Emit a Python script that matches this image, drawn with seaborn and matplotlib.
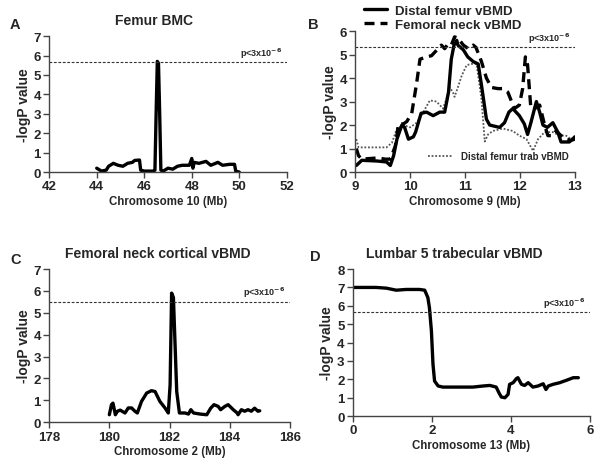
import numpy as np
import pandas as pd
import seaborn as sns
import matplotlib
matplotlib.use("Agg")
import matplotlib.pyplot as plt
from matplotlib.lines import Line2D

# ---- data ----
# A: Femur BMC, chromosome 10
a_x = [44.0, 44.2, 44.4, 44.5, 44.7, 44.9, 45.1, 45.3, 45.5, 45.6, 45.8, 45.85, 46.0, 46.4, 46.45,
       46.5, 46.55, 46.6, 46.65, 46.7, 46.8, 47.0, 47.2, 47.4, 47.6, 47.9, 48.0, 48.05, 48.1, 48.3,
       48.6, 48.8, 49.1, 49.3, 49.6, 49.8, 49.85, 50.0]
a_y = [0.2, 0.05, 0.1, 0.3, 0.45, 0.35, 0.3, 0.45, 0.5, 0.6, 0.62, 0.1, 0.05, 0.05, 0.1,
       3.0, 5.7, 5.6, 3.0, 0.1, 0.05, 0.2, 0.15, 0.3, 0.35, 0.35, 0.7, 0.2, 0.5, 0.45,
       0.55, 0.35, 0.5, 0.35, 0.4, 0.4, 0.05, 0.0]

# B: chromosome 9, three traits
b_solid_x = [9.02, 9.12, 9.4, 9.57, 9.64, 9.7, 9.76, 9.85, 9.9, 9.97, 10.06, 10.1, 10.2, 10.3, 10.42,
             10.54, 10.63, 10.7, 10.75, 10.8, 10.85, 10.87, 10.97, 11.05, 11.15, 11.24, 11.3, 11.39,
             11.45, 11.63, 11.72, 11.8, 11.87, 11.99, 12.08, 12.14, 12.2, 12.3, 12.36, 12.42, 12.5,
             12.6, 12.69, 12.75, 12.9, 12.96, 13.0]
b_solid_y = [0.28, 0.5, 0.47, 0.43, 0.28, 0.7, 1.4, 2.0, 1.9, 1.4, 1.5, 1.7, 2.5, 2.55, 2.4,
             2.55, 2.55, 3.4, 4.8, 5.4, 5.6, 5.4, 5.2, 4.9, 4.7, 4.6, 3.7, 2.25,
             2.0, 1.9, 2.1, 2.55, 2.7, 2.4, 2.05, 1.6, 2.1, 3.0, 2.55, 2.0, 1.9,
             2.1, 1.7, 1.28, 1.28, 1.4, 1.5]
b_dash_x = [9.02, 9.06, 9.12, 9.4, 9.55, 9.64, 9.73, 9.79, 9.88, 9.94, 10.03, 10.12, 10.18, 10.3,
            10.39, 10.51, 10.57, 10.63, 10.69, 10.75, 10.81, 10.87, 10.97, 11.06, 11.15, 11.2, 11.3,
            11.39, 11.48, 11.6, 11.69, 11.78, 11.9, 11.99, 12.05, 12.1, 12.14, 12.2, 12.27, 12.36,
            12.45, 12.51, 12.6, 12.66, 12.75, 12.84, 12.93, 13.0]
b_dash_y = [1.0, 0.7, 0.55, 0.6, 0.55, 0.55, 1.1, 2.05, 2.05, 2.15, 2.5, 3.8, 4.8, 4.9,
            4.95, 5.25, 5.4, 5.25, 5.45, 5.4, 5.75, 5.7, 5.4, 5.25, 5.4, 5.3, 4.7,
            4.0, 3.6, 3.55, 3.55, 3.4, 2.7, 2.85, 3.55, 4.9, 4.55, 2.7, 2.7, 2.85,
            2.0, 1.55, 1.55, 1.75, 1.55, 1.4, 1.35, 1.4]
b_dot_x = [9.02, 9.06, 9.2, 9.57, 9.67, 9.76, 9.88, 10.0, 10.12, 10.24, 10.36, 10.48, 10.6, 10.66,
           10.72, 10.78, 10.81, 10.87, 10.94, 11.03, 11.12, 11.21, 11.3, 11.36, 11.42, 11.51, 11.69,
           11.87, 11.99, 12.12, 12.24, 12.33, 12.45, 12.6, 12.72, 12.84, 12.93, 13.0]
b_dot_y = [1.4, 1.05, 1.05, 1.05, 1.25, 1.85, 2.0, 1.9, 2.1, 2.55, 3.05, 3.0, 2.7, 3.1,
           3.6, 3.4, 3.2, 3.6, 4.1, 4.55, 4.6, 4.6, 3.1, 1.3, 1.6, 1.75, 1.85,
           1.75, 1.55, 1.4, 0.9, 1.4, 1.7, 1.7, 1.55, 1.55, 1.4, 1.5]

# C: Femoral neck cortical vBMD, chromosome 2
c_x = [180.0, 180.07, 180.12, 180.2, 180.27, 180.36, 180.52, 180.63, 180.74, 180.85, 180.93, 181.07,
       181.24, 181.4, 181.52, 181.68, 181.85, 181.96, 182.02, 182.07, 182.13, 182.24, 182.33, 182.52,
       182.63, 182.71, 182.8, 183.02, 183.24, 183.37, 183.48, 183.62, 183.7, 183.84, 183.95, 184.12,
       184.25, 184.28, 184.39, 184.5, 184.61, 184.72, 184.83, 184.94, 185.0]
c_y = [0.34, 0.8, 0.87, 0.34, 0.5, 0.55, 0.42, 0.65, 0.65, 0.5, 0.42, 0.95,
       1.33, 1.44, 1.4, 0.95, 0.65, 0.42, 1.7, 5.9, 5.7, 1.4, 0.42, 0.42,
       0.37, 0.57, 0.42, 0.37, 0.34, 0.64, 0.8, 0.72, 0.57, 0.72, 0.8, 0.57,
       0.42, 0.34, 0.57, 0.5, 0.57, 0.5, 0.64, 0.5, 0.52]

# D: Lumbar 5 trabecular vBMD, chromosome 13
d_x = [0.0, 0.59, 0.85, 1.1, 1.35, 1.69, 1.82, 1.9, 1.94, 1.99, 2.03, 2.07, 2.16, 2.28, 2.62,
       3.04, 3.3, 3.47, 3.63, 3.7, 3.76, 3.85, 3.93, 3.97, 4.06, 4.14, 4.18, 4.27, 4.35, 4.44,
       4.56, 4.69, 4.82, 4.89, 4.95, 5.07, 5.24, 5.41, 5.58, 5.71]
d_y = [7.0, 7.0, 6.96, 6.85, 6.89, 6.89, 6.85, 6.45, 5.9, 4.64, 2.82, 1.91, 1.64, 1.58, 1.58,
       1.58, 1.64, 1.67, 1.58, 1.27, 1.04, 1.0, 1.18, 1.73, 1.82, 2.04, 2.09, 1.73, 1.67, 1.82,
       1.58, 1.64, 1.76, 1.45, 1.64, 1.73, 1.82, 1.95, 2.09, 2.09]

thresholds = {"A": 5.65, "B": 5.32, "C": 5.51, "D": 5.64}

# ---- style ----
sns.set_style("ticks")
plt.rcParams["font.family"] = ["Liberation Sans", "DejaVu Sans"]
plt.rcParams["font.weight"] = "bold"
plt.rcParams["axes.labelweight"] = "bold"
plt.rcParams["axes.titleweight"] = "bold"
plt.rcParams["mathtext.default"] = "bf"

fig = plt.figure(figsize=(6, 4.64), dpi=100)
axA = fig.add_axes([0.082, 0.627, 0.396, 0.293])
axB = fig.add_axes([0.592, 0.627, 0.366, 0.304])
axC = fig.add_axes([0.082, 0.088, 0.401, 0.330])
axD = fig.add_axes([0.588, 0.101, 0.395, 0.317])

lw = 2.4
dash = (0, (3, 1.8))
dots = (0, (1, 1))


def style(ax, xlim, xticks, ylim, xlabel, title=None, tx=0.44):
    ax.set_xlim(*xlim)
    ax.set_ylim(*ylim)
    ax.set_xticks(xticks)
    ax.set_yticks(range(int(ylim[0]), int(ylim[1]) + 1))
    ax.set_xlabel(xlabel, fontsize=8.3, labelpad=2)
    ax.set_ylabel("-logP value", fontsize=10, labelpad=2)
    ax.tick_params(labelsize=9.5, length=4, width=1, color="#444444", pad=2)
    for s in ("top", "right"):
        ax.spines[s].set_visible(False)
    for s in ("left", "bottom"):
        ax.spines[s].set_color("#444444")
        ax.spines[s].set_linewidth(1)
    if title:
        ax.set_title(title, fontsize=10, x=tx, pad=9)


def threshold(ax, y, xmin, xmax):
    ax.plot([xmin, xmax], [y, y], ls=(0, (2.5, 1.5)), color="#333333", lw=0.8)
    ax.text(xmax - (xmax - xmin) * 0.02, y + (ax.get_ylim()[1]) * 0.015, r"p<3x10$^{-6}$",
            ha="right", va="bottom", fontsize=6.5)


# A
sns.lineplot(x=a_x, y=a_y, ax=axA, color="black", lw=lw, estimator=None)
style(axA, (42, 52), range(42, 53, 2), (0, 7), "Chromosome 10 (Mb)", "Femur BMC", 0.44)
threshold(axA, thresholds["A"], 42, 52)

# B
sns.lineplot(x=b_dot_x, y=b_dot_y, ax=axB, color="#555555", lw=1.3, ls=dots, estimator=None)
sns.lineplot(x=b_dash_x, y=b_dash_y, ax=axB, color="black", lw=lw, ls=dash, estimator=None)
sns.lineplot(x=b_solid_x, y=b_solid_y, ax=axB, color="black", lw=lw, estimator=None)
style(axB, (9, 13), range(9, 14), (0, 6), "Chromosome 9 (Mb)")
threshold(axB, thresholds["B"], 9, 13)

top_handles = [Line2D([], [], color="black", lw=lw),
               Line2D([], [], color="black", lw=lw, ls=dash)]
fig.legend(top_handles, ["Distal femur vBMD", "Femoral neck vBMD"], loc="upper left",
           bbox_to_anchor=(0.606, 0.988), frameon=False, fontsize=9.5, handlelength=1.75,
           handletextpad=0.6, labelspacing=0.15, borderpad=0, borderaxespad=0)
axB.legend([Line2D([], [], color="#555555", lw=1.3, ls=dots)], ["Distal femur trab vBMD"],
           loc="lower right", bbox_to_anchor=(0.99, 0.05), frameon=False, fontsize=7,
           handlelength=2.6, handletextpad=0.8, borderaxespad=0)

# C
sns.lineplot(x=c_x, y=c_y, ax=axC, color="black", lw=lw, estimator=None)
style(axC, (178, 186), range(178, 187, 2), (0, 7), "Chromosome 2 (Mb)",
      "Femoral neck cortical vBMD", 0.45)
threshold(axC, thresholds["C"], 178, 186)

# D
sns.lineplot(x=d_x, y=d_y, ax=axD, color="black", lw=lw, estimator=None)
style(axD, (0, 6), range(0, 7, 2), (0, 8), "Chromosome 13 (Mb)", "Lumbar 5 trabecular vBMD", 0.43)
threshold(axD, thresholds["D"], 0, 6)

# panel letters
for lab, (px, py) in {"A": (10, 25), "B": (308, 25), "C": (10, 260), "D": (310, 257)}.items():
    fig.text(px / 600, 1 - py / 464, lab, fontsize=10.5, fontweight="bold", ha="left", va="center")

fig.savefig("out.png", dpi=100)
